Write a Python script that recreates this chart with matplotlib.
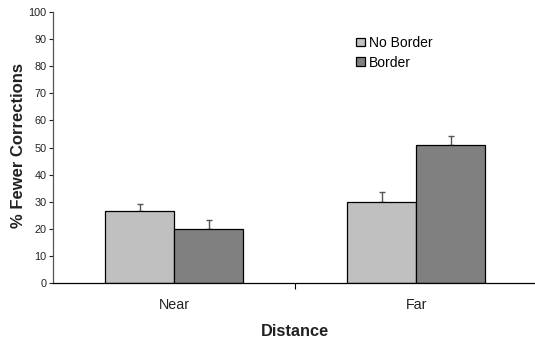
import matplotlib
matplotlib.use("Agg")
import matplotlib.pyplot as plt
import numpy as np

plt.rcParams['font.family'] = ['Liberation Sans', 'DejaVu Sans']

categories = ["Near", "Far"]
series_names = ["No Border", "Border"]
no_border = [26.6, 30.0]
border = [19.8, 51.0]
no_border_err = [2.4, 3.4]
border_err = [3.3, 3.2]
y_ticks = list(range(0, 101, 10))

fig = plt.figure(figsize=(5.35, 3.42), dpi=100)
ax = fig.add_axes([53.3 / 535, 1 - 283 / 342, 484 / 535, 271 / 342])

x = np.arange(len(categories))
w = 0.285
colors = ["#c0c0c0", "#808080"]
for i, (vals, errs) in enumerate([(no_border, no_border_err), (border, border_err)]):
    pos = x + (i - 0.5) * w
    ax.bar(pos, vals, width=w, color=colors[i], edgecolor="black", linewidth=0.9,
           label=series_names[i], zorder=2)
    ax.errorbar(pos, vals, yerr=[np.zeros(len(errs)), errs], fmt="none",
                ecolor="#555555", elinewidth=1.0, capsize=2.5, capthick=1.0, zorder=1)

ax.set_xlim(-0.5, 1.5)
ax.set_ylim(0, 100)
ax.set_yticks(y_ticks)
ax.tick_params(axis="y", labelsize=7.8, length=3, width=0.8, direction="out", pad=2, colors="#222222")
ax.set_xticks([0.5])
ax.set_xticklabels([""])
ax.tick_params(axis="x", length=4, width=0.8, direction="out")
for c, xc in zip(categories, x):
    ax.text(xc, -8.0, c, ha="center", va="center", fontsize=10.3, color="#222222")

for s in ["top", "right"]:
    ax.spines[s].set_visible(False)
ax.spines["left"].set_color("#555555")
ax.spines["left"].set_linewidth(0.9)
ax.spines["bottom"].set_linewidth(0.9)

fig.text(18.5 / 535, 1 - 145 / 342, "% Fewer Corrections", rotation=90, ha="center", va="center",
         fontsize=12, fontweight="bold", color="#222222")
fig.text(295 / 535, 1 - 331 / 342, "Distance", ha="center", va="center",
         fontsize=11.8, fontweight="bold", color="#222222")

leg = ax.legend(loc="upper left", bbox_to_anchor=(296 / 484, 1 - 17 / 271), frameon=False,
                fontsize=10, handlelength=0.6, handleheight=0.6, handletextpad=0.3,
                labelspacing=0.42, borderpad=0)

fig.savefig("out.png", dpi=100)
